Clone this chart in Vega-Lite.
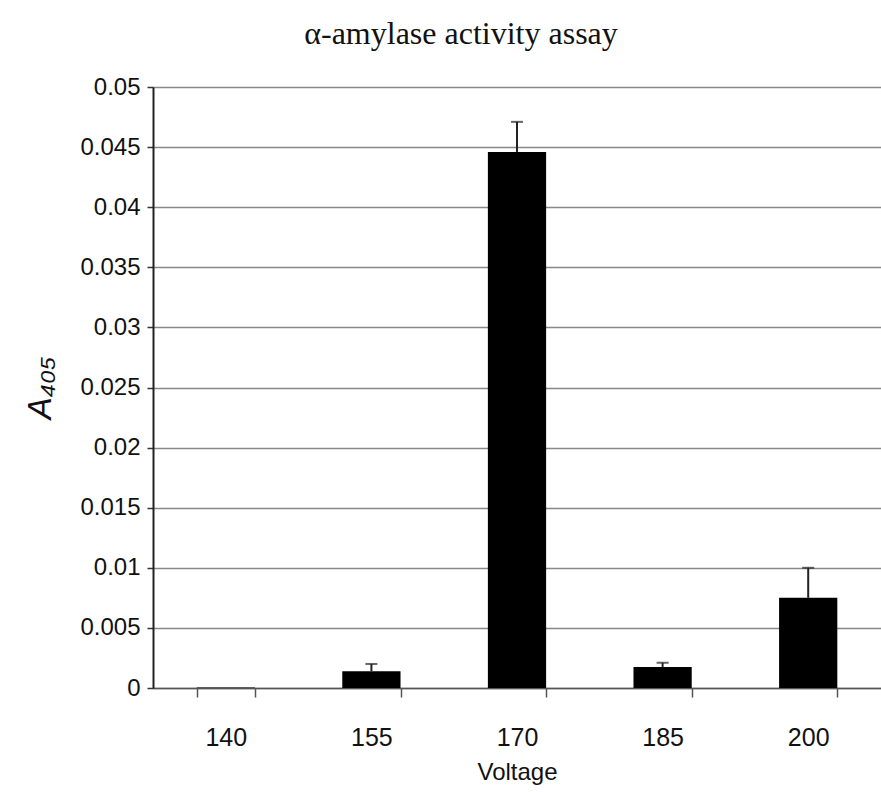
{
  "$schema": "https://vega.github.io/schema/vega-lite/v6.json",
  "autosize": "none",
  "width": 728,
  "height": 601,
  "padding": {"left": 153, "top": 87, "right": 0, "bottom": 104},
  "background": "white",
  "title": {
    "text": "α-amylase activity assay",
    "font": "Liberation Serif",
    "fontSize": 32,
    "fontWeight": "normal",
    "color": "#111",
    "anchor": "middle",
    "frame": "group",
    "dx": -56,
    "offset": 24
  },
  "data": {
    "values": [
      {"voltage": "140", "a405": 0.00005, "err": null},
      {"voltage": "155", "a405": 0.0014, "err": 0.0020},
      {"voltage": "170", "a405": 0.0446, "err": 0.0471},
      {"voltage": "185", "a405": 0.00175, "err": 0.0021},
      {"voltage": "200", "a405": 0.0075, "err": 0.0100}
    ]
  },
  "encoding": {
    "x": {
      "field": "voltage",
      "type": "nominal",
      "scale": {"paddingInner": 0.6, "paddingOuter": 0.3},
      "axis": {
        "title": "Voltage",
        "labelAngle": 0,
        "labelFont": "Liberation Sans",
        "labelFontSize": 25,
        "labelColor": "#111",
        "labelPadding": 28,
        "tickBand": "extent",
        "tickSize": 9,
        "tickWidth": 1.5,
        "tickColor": "#555",
        "domainColor": "#555",
        "domainWidth": 1.5,
        "titleFont": "Liberation Sans",
        "titleFontSize": 24,
        "titleFontWeight": "normal",
        "titleColor": "#111",
        "titlePadding": 10,
        "grid": false
      }
    }
  },
  "layer": [
    {
      "mark": {"type": "bar", "color": "black"},
      "encoding": {
        "y": {
          "field": "a405",
          "type": "quantitative",
          "scale": {"domain": [0, 0.05], "nice": false},
          "axis": {
            "title": "A₄₀₅",
            "values": [0, 0.005, 0.01, 0.015, 0.02, 0.025, 0.03, 0.035, 0.04, 0.045, 0.05],
            "format": "~f",
            "labelFont": "Liberation Sans",
            "labelFontSize": 24,
            "labelColor": "#111",
            "labelPadding": 7,
            "tickSize": 6,
            "tickWidth": 1.5,
            "tickColor": "#333",
            "domainColor": "#222",
            "domainWidth": 2,
            "grid": true,
            "gridColor": "#888",
            "gridWidth": 1.5,
            "titleFont": "Liberation Sans",
            "titleFontSize": 33,
            "titleFontStyle": "italic",
            "titleFontWeight": "normal",
            "titleColor": "#111",
            "titlePadding": 22
          }
        }
      }
    },
    {
      "mark": {"type": "rule", "color": "#222", "strokeWidth": 2},
      "encoding": {
        "y": {"field": "a405", "type": "quantitative"},
        "y2": {"field": "err"}
      }
    },
    {
      "mark": {"type": "tick", "color": "#222", "size": 12, "thickness": 2},
      "encoding": {
        "y": {"field": "err", "type": "quantitative"}
      }
    }
  ],
  "config": {"view": {"stroke": null}}
}
